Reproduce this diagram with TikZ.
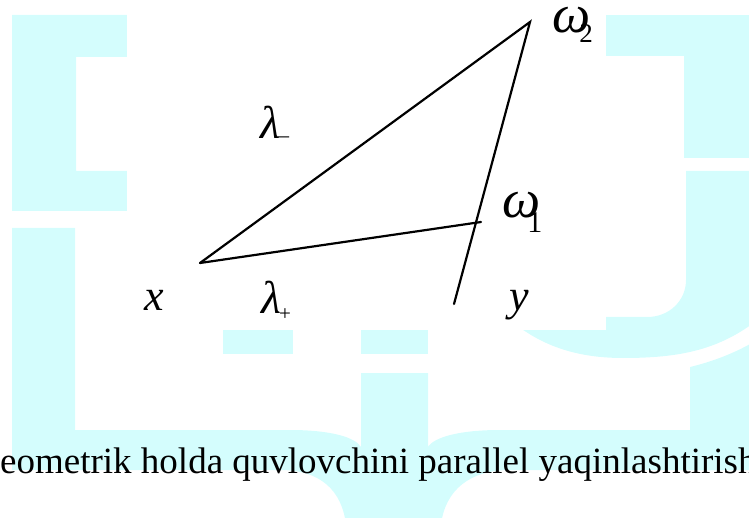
\documentclass[tikz,border=0pt]{standalone}
\usepackage{fontspec}
\setmainfont{Liberation Serif}
\usetikzlibrary{positioning}

\definecolor{wmcyan}{RGB}{212,253,253}

\begin{document}
\begin{tikzpicture}[
    x=1pt, y=-1pt,
    wmark/.style={fill=wmcyan, draw=none},
    edge/.style={draw=black, line width=2.2pt, line cap=round},
    lbl/.style={inner sep=0pt, anchor=base west,
        font=\fontsize{44}{46}\selectfont\itshape},
    biglbl/.style={lbl, font=\fontsize{54}{56}\selectfont\itshape},
    caption/.style={inner sep=0pt, anchor=base west,
        font=\fontsize{37}{40}\selectfont}
]
\useasboundingbox (0,0) rectangle (749,518);

%% ── Watermark (light cyan) ─────────────────────────────────────────
%% Left bracket
\fill[wmark] (12,15) -- (140,15) -- (140,57) -- (76,57) -- (76,171)
    -- (140,171) -- (140,211) -- (12,211) -- cycle;

%% Lower L, base band and stem
\fill[wmark] (12,228) -- (75,228) -- (75,430) -- (290,430)
    .. controls (330,430) and (355,437) .. (361,447)
    -- (361,373) -- (428,373) -- (428,447)
    .. controls (434,437) and (460,430) .. (500,430)
    -- (760,430) -- (760,470) -- (510,470)
    .. controls (470,470) and (445,490) .. (441,525)
    -- (346,525)
    .. controls (342,490) and (320,470) .. (280,470)
    -- (12,470) -- cycle;

%% Small blocks
\fill[wmark] (223,300) rectangle (293,354);
\fill[wmark] (361,300) rectangle (428,354);

%% Right hook
\fill[wmark] (560,15) rectangle (760,56);
\fill[wmark] (684,56) rectangle (760,158);
\fill[wmark] (686,171) -- (760,171) -- (760,318)
    .. controls (720,350) and (680,358) .. (623,358)
    .. controls (575,358) and (540,345) .. (510,320)
    -- (510,317) -- (647,317)
    .. controls (670,317) and (686,300) .. (686,280) -- cycle;

%% Lower right post
\fill[wmark] (690,367) .. controls (715,361) and (740,351) .. (760,338)
    -- (760,470) -- (690,470) -- cycle;

%% White panel behind the figure
\fill[white] (127,-5) rectangle (606,330);

%% ── Triangle ───────────────────────────────────────────────────────
\coordinate (X) at (200,263);
\coordinate (W2) at (530,22);
\coordinate (W1) at (481,222);
\coordinate (Yend) at (454,304);

\draw[edge] (X) -- (W2) -- (Yend);
\draw[edge] (X) -- (W1);

%% ── Labels ─────────────────────────────────────────────────────────
\node[biglbl] (omegaTwo) at (552,33)
    {ω\kern-11pt\raisebox{-10pt}{\fontsize{27}{29}\selectfont\upshape 2}};
\node[biglbl] (omegaOne) at (502,218)
    {ω\kern-13pt\raisebox{-15pt}{\fontsize{30}{32}\selectfont\upshape 1}};
\node[lbl, font=\fontsize{46}{48}\selectfont\itshape] (lamMinus) at (260,139)
    {λ\kern-2pt\raisebox{-4pt}{\fontsize{22}{24}\selectfont\upshape –}};
\node[lbl, font=\fontsize{46}{48}\selectfont\itshape] (lamPlus) at (261,313)
    {λ\kern-2pt\raisebox{-7pt}{\fontsize{21}{23}\selectfont\upshape +}};
\node[lbl] (xlab) at (144,311) {x};
\node[lbl] (ylab) at (509,311) {y};

%% ── Caption ────────────────────────────────────────────────────────
\node[caption] (capt) at (0,473)
    {eometrik holda quvlovchini parallel yaqinlashtirish};

\end{tikzpicture}
\end{document}
